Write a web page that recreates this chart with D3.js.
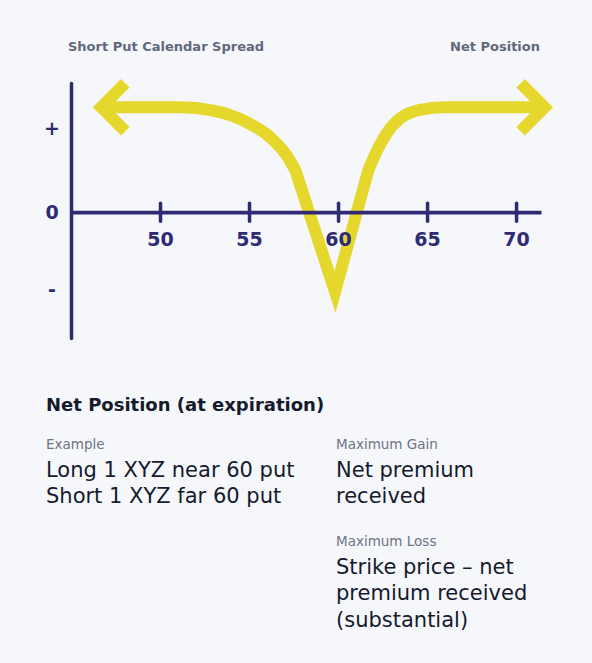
<!DOCTYPE html>
<meta charset="utf-8">
<script src="https://cdnjs.cloudflare.com/ajax/libs/d3/7.8.5/d3.min.js"></script>
<style>
  body { margin: 0; background: #f5f7fb; }
  svg { display: block; font-family: "DejaVu Sans", "Open Sans", sans-serif; }
</style>
<div id="chart"></div>
<script>

// ---- data ----
var priceTicks = [50, 55, 60, 65, 70];
var yTickValues = [1, 0, -0.92];
var yTickLabels = ["+", "0", "-"];

// left shoulder of the net position line (price, value)
var leftPrice = [46.7, 51.1, 53.0, 54.8, 56.2, 57.1, 57.6];
var leftValue = [1.25, 1.25, 1.21, 1.08, 0.89, 0.68, 0.50];
// strike / bottom of the V
var strikePrice = [59.83];
var strikeValue = [-0.95];
// right shoulder
var rightPrice = [61.7, 62.2, 62.7, 63.5, 64.6, 66.0, 71.6];
var rightValue = [0.50, 0.74, 0.93, 1.12, 1.22, 1.25, 1.25];

var chartTitle = "Short Put Calendar Spread";
var chartRightTitle = "Net Position";
var sectionTitle = "Net Position (at expiration)";
var exampleLabel = "Example";
var exampleLines = ["Long 1 XYZ near 60 put", "Short 1 XYZ far 60 put"];
var gainLabel = "Maximum Gain";
var gainLines = ["Net premium", "received"];
var lossLabel = "Maximum Loss";
var lossLines = ["Strike price \u2013 net", "premium received", "(substantial)"];

// ---- layout ----
var width = 592, height = 663;
var navy = "#302a73", yellow = "#e5d72c", grey = "#62687b", ink = "#151a2d";

var svg = d3.select("#chart").append("svg")
    .attr("width", width)
    .attr("height", height);

svg.append("rect").attr("width", width).attr("height", height).attr("fill", "#f5f7fb");

var x = d3.scaleLinear().domain([45, 71.4]).range([71, 541]);
var y = d3.scaleLinear().domain([-1.5, 1.54]).range([338, 83]);

// titles
svg.append("text")
    .attr("x", 68).attr("y", 51)
    .attr("fill", grey).attr("font-size", 13).attr("font-weight", 700)
    .text(chartTitle);
svg.append("text")
    .attr("x", 540).attr("y", 51)
    .attr("text-anchor", "end")
    .attr("fill", grey).attr("font-size", 13).attr("font-weight", 700)
    .text(chartRightTitle);

// net position line (drawn under the axes)
var leftPts = leftPrice.map(function(p, i) { return [x(p), y(leftValue[i])]; });
var rightPts = rightPrice.map(function(p, i) { return [x(p), y(rightValue[i])]; });
var vPts = [leftPts[leftPts.length - 1], [x(strikePrice[0]), y(strikeValue[0])], rightPts[0]];

var smooth = d3.line().curve(d3.curveMonotoneX);
var straight = d3.line();

var d = smooth(leftPts)
  + straight(vPts).replace(/^M/, "L")
  + smooth(rightPts).replace(/^M/, "L");

svg.append("path")
    .attr("d", d)
    .attr("fill", "none")
    .attr("stroke", yellow)
    .attr("stroke-width", 12)
    .attr("stroke-linejoin", "miter")
    .attr("stroke-miterlimit", 10);

// arrow heads at both ends
var arm = 24;
var ends = [leftPts[0], rightPts[rightPts.length - 1]];
svg.selectAll(".arrow")
  .data(ends)
  .enter()
  .append("path")
    .attr("class", "arrow")
    .attr("d", function(p, i) {
      var dir = i === 0 ? 1 : -1;
      return "M" + (p[0] + dir * arm) + "," + (p[1] - arm)
        + "L" + p[0] + "," + p[1]
        + "L" + (p[0] + dir * arm) + "," + (p[1] + arm);
    })
    .attr("fill", "none")
    .attr("stroke", yellow)
    .attr("stroke-width", 12)
    .attr("stroke-linejoin", "miter");

// x axis
var xAxis = svg.append("g")
    .attr("transform", "translate(0," + y(0) + ")")
    .call(d3.axisBottom(x).tickValues(priceTicks).tickSizeOuter(0));
xAxis.select(".domain").attr("stroke", navy).attr("stroke-width", 3.8);
xAxis.selectAll(".tick line")
    .attr("stroke", navy).attr("stroke-width", 3.5)
    .attr("stroke-linecap", "round")
    .attr("y1", -9).attr("y2", 9);
xAxis.selectAll(".tick text")
    .attr("fill", navy).attr("font-size", 19).attr("font-weight", 700)
    .attr("font-family", "\"DejaVu Sans\", sans-serif")
    .attr("y", 34).attr("dy", 0);

// y axis
var yAxis = svg.append("g")
    .attr("transform", "translate(" + x(45) + ",0)")
    .call(d3.axisLeft(y).tickValues(yTickValues).tickSize(0).tickSizeOuter(0)
      .tickFormat(function(d, i) { return yTickLabels[i]; }));
yAxis.select(".domain").attr("stroke", navy).attr("stroke-width", 3.5).attr("stroke-linecap", "round");
yAxis.selectAll(".tick text")
    .attr("fill", navy).attr("font-size", 19).attr("font-weight", 700)
    .attr("font-family", "\"DejaVu Sans\", sans-serif")
    .attr("text-anchor", "middle")
    .attr("x", -19);

// text block
svg.append("text")
    .attr("x", 46).attr("y", 411)
    .attr("fill", ink).attr("font-size", 18).attr("font-weight", 700)
    .text(sectionTitle);

function block(xPos, yLabel, label, lines) {
  svg.append("text")
      .attr("x", xPos).attr("y", yLabel)
      .attr("fill", "#6d7386").attr("font-size", 13.5)
      .text(label);
  svg.append("g").selectAll("text")
    .data(lines)
    .enter()
    .append("text")
      .attr("x", xPos)
      .attr("y", function(t, i) { return yLabel + 27.5 + i * 26.8; })
      .attr("fill", ink).attr("font-size", 21)
      .text(function(t) { return t; });
}

block(46, 449, exampleLabel, exampleLines);
block(336, 449, gainLabel, gainLines);
block(336, 546, lossLabel, lossLines);

</script>
